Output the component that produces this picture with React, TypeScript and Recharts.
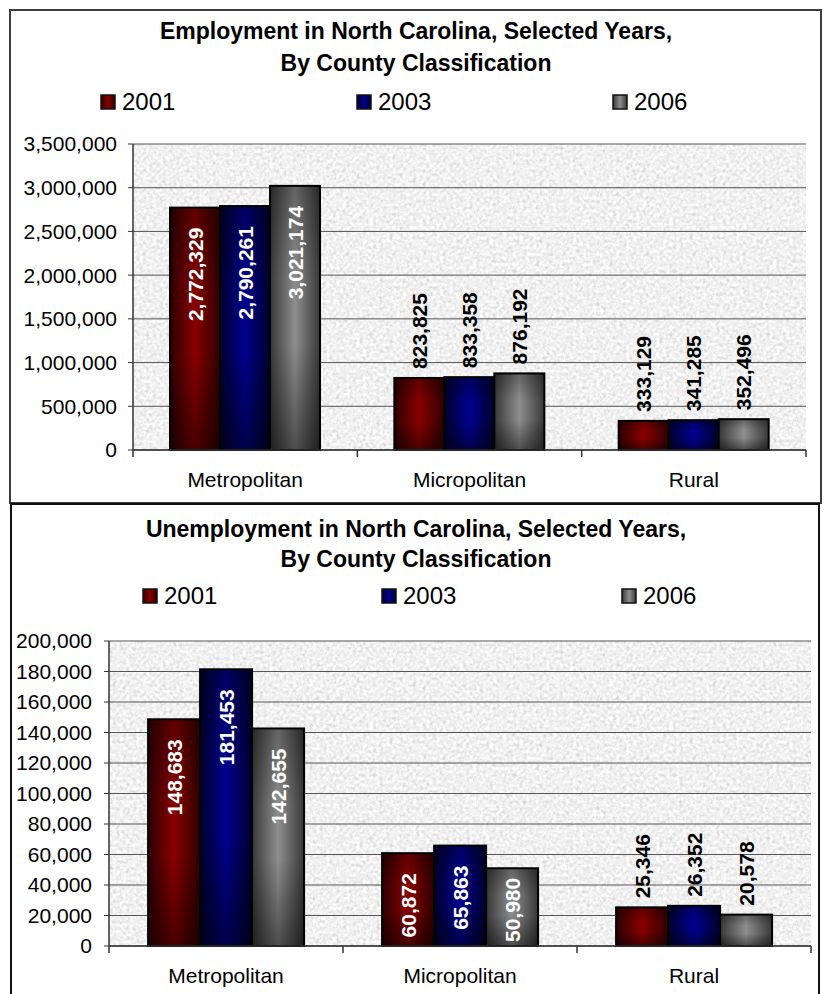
import React from 'react';
import { BarChart, Bar, XAxis, YAxis, CartesianGrid, LabelList } from 'recharts';

const categories = ['Metropolitan', 'Micropolitan', 'Rural'];
const years = ['2001', '2003', '2006'];

const employment2001 = [2772329, 823825, 333129];
const employment2003 = [2790261, 833358, 341285];
const employment2006 = [3021174, 876192, 352496];

const unemployment2001 = [148683, 60872, 25346];
const unemployment2003 = [181453, 65863, 26352];
const unemployment2006 = [142655, 50980, 20578];

const employmentTicks = [0, 500000, 1000000, 1500000, 2000000, 2500000, 3000000, 3500000];
const unemploymentTicks = [0, 20000, 40000, 60000, 80000, 100000, 120000, 140000, 160000, 180000, 200000];

const employmentTitle = ['Employment in North Carolina, Selected Years,', 'By County Classification'];
const unemploymentTitle = ['Unemployment in North Carolina, Selected Years,', 'By County Classification'];

const FONT = '"Liberation Sans", Arial, Helvetica, sans-serif';

const fmt = (v: number) => Number(v).toLocaleString('en-US');

const buildData = (a: number[], b: number[], c: number[]) =>
  categories.map((cat, i) => ({ category: cat, y2001: a[i], y2003: b[i], y2006: c[i] }));

const employmentData = buildData(employment2001, employment2003, employment2006);
const unemploymentData = buildData(unemployment2001, unemployment2003, unemployment2006);

const seriesKeys = ['y2001', 'y2003', 'y2006'];
const seriesGrad = ['red', 'blue', 'gray'];

function Defs({ p }: { p: string }) {
  return (
    <defs>
      <linearGradient id={`${p}red`} x1="0" y1="0" x2="1" y2="0">
        <stop offset="0%" stopColor="#2e0000" />
        <stop offset="50%" stopColor="#8a0000" />
        <stop offset="100%" stopColor="#2e0000" />
      </linearGradient>
      <linearGradient id={`${p}blue`} x1="0" y1="0" x2="1" y2="0">
        <stop offset="0%" stopColor="#00002c" />
        <stop offset="50%" stopColor="#000090" />
        <stop offset="100%" stopColor="#00002c" />
      </linearGradient>
      <linearGradient id={`${p}gray`} x1="0" y1="0" x2="1" y2="0">
        <stop offset="0%" stopColor="#383838" />
        <stop offset="50%" stopColor="#8e8e8e" />
        <stop offset="100%" stopColor="#383838" />
      </linearGradient>
      <linearGradient id={`${p}vshade`} x1="0" y1="0" x2="0" y2="1">
        <stop offset="0%" stopColor="#000" stopOpacity="0.3" />
        <stop offset="35%" stopColor="#000" stopOpacity="0" />
        <stop offset="60%" stopColor="#000" stopOpacity="0" />
        <stop offset="100%" stopColor="#000" stopOpacity="0.45" />
      </linearGradient>
      <filter id={`${p}grain`} x="0" y="0" width="100%" height="100%">
        <feTurbulence type="fractalNoise" baseFrequency="0.3" numOctaves="4" seed="7" />
        <feColorMatrix
          type="matrix"
          values="0.33 0.33 0.33 0 0  0.33 0.33 0.33 0 0  0.33 0.33 0.33 0 0  0 0 0 0 1"
        />
        <feComponentTransfer>
          <feFuncR type="linear" slope="0.9" intercept="0.43" />
          <feFuncG type="linear" slope="0.9" intercept="0.43" />
          <feFuncB type="linear" slope="0.9" intercept="0.43" />
        </feComponentTransfer>
      </filter>
      <pattern id={`${p}granite`} patternUnits="userSpaceOnUse" width="300" height="300">
        <rect x="0" y="0" width="300" height="300" fill="#e0e0e0" filter={`url(#${p}grain)`} />
      </pattern>
    </defs>
  );
}

function makeBarShape(p: string, grad: string) {
  return (props: any) => {
    const { x, y, width, height } = props;
    if (!height || height <= 0) return <g />;
    return (
      <g>
        <rect x={x} y={y} width={width} height={height} fill={`url(#${p}${grad})`} />
        <rect x={x} y={y} width={width} height={height} fill={`url(#${p}vshade)`} />
        <rect x={x} y={y} width={width} height={height} fill="none" stroke="#000" strokeWidth={2} />
      </g>
    );
  };
}

const textLen = (s: string) => {
  let w = 0;
  for (const ch of s) w += ch === ',' ? 0.278 : 0.556;
  return w * 21;
};

const renderValueLabel = (props: any) => {
  const { x, y, width, height, value } = props;
  if (value == null) return null;
  const s = fmt(value);
  const len = textLen(s);
  const cx = Number(x) + Number(width) / 2;
  const inside = Number(height) >= len + 8;
  let py: number;
  let anchor: 'start' | 'end';
  let color: string;
  if (inside) {
    const gap = Math.min(20, Number(height) - len - 4);
    py = Number(y) + gap;
    anchor = 'end';
    color = '#ffffff';
  } else {
    py = Number(y) - 9;
    anchor = 'start';
    color = '#000000';
  }
  return (
    <text
      x={cx}
      y={py}
      transform={`rotate(-90, ${cx}, ${py})`}
      textAnchor={anchor}
      dominantBaseline="central"
      fontFamily={FONT}
      fontWeight="bold"
      fontSize={21}
      fill={color}
    >
      {s}
    </text>
  );
};

const AXIS_GAP = 22;

const CategoryTick = (props: any) => {
  const { x, y, payload, index, visibleTicksCount } = props;
  const axisY = Number(y) - AXIS_GAP;
  const off = payload && typeof payload.offset === 'number' ? payload.offset : null;
  return (
    <g>
      {off != null && (
        <line x1={x - off} x2={x - off} y1={axisY} y2={axisY + 7} stroke="#333" strokeWidth={1.5} />
      )}
      {off != null && index === (visibleTicksCount ?? 3) - 1 && (
        <line x1={x + off} x2={x + off} y1={axisY} y2={axisY + 7} stroke="#333" strokeWidth={1.5} />
      )}
      <text x={x} y={y} dy="0.71em" textAnchor="middle" fontFamily={FONT} fontSize={21} fill="#000">
        {payload.value}
      </text>
    </g>
  );
};

interface ChartProps {
  p: string;
  data: any[];
  ticks: number[];
  max: number;
  height: number;
  margin: { top: number; right: number; bottom: number; left: number };
  yWidth: number;
  catGap: string;
  yTickMargin: number;
}

function NCChart({ p, data, ticks, max, height, margin, yWidth, catGap, yTickMargin }: ChartProps) {
  return (
    <BarChart
      width={827}
      height={height}
      data={data}
      margin={margin}
      barGap={0}
      barCategoryGap={catGap}
    >
      <Defs p={p} />
      <CartesianGrid
        vertical={false}
        stroke="#555"
        strokeWidth={1}
        fill={`url(#${p}granite)`}
        fillOpacity={1}
      />
      <XAxis
        dataKey="category"
        height={40}
        tickLine={false}
        tickSize={0}
        tickMargin={AXIS_GAP}
        axisLine={{ stroke: '#333', strokeWidth: 1.5 }}
        tick={<CategoryTick />}
        interval={0}
      />
      <YAxis
        width={yWidth}
        domain={[0, max]}
        ticks={ticks}
        interval={0}
        tickFormatter={fmt}
        tickSize={5}
        tickMargin={yTickMargin}
        tickLine={{ stroke: '#333' }}
        axisLine={{ stroke: '#333', strokeWidth: 1.5 }}
        tick={{ fontFamily: FONT, fontSize: 21, fill: '#000' }}
      />
      <YAxis
        yAxisId="right"
        orientation="right"
        width={0}
        domain={[0, 1]}
        tick={false}
        tickLine={false}
        axisLine={{ stroke: '#888', strokeWidth: 1 }}
      />
      {seriesKeys.map((k, i) => (
        <Bar
          key={k}
          dataKey={k}
          name={years[i]}
          fill={`url(#${p}${seriesGrad[i]})`}
          shape={makeBarShape(p, seriesGrad[i])}
          isAnimationActive={false}
        >
          <LabelList dataKey={k} content={renderValueLabel} />
        </Bar>
      ))}
    </BarChart>
  );
}

function TitleAndLegend({
  lines,
  baselines,
  legendX,
  legendTop,
  legendBaseline,
  p,
}: {
  lines: string[];
  baselines: number[];
  legendX: number[];
  legendTop: number;
  legendBaseline: number;
  p: string;
}) {
  return (
    <g>
      {lines.map((l, i) => (
        <text
          key={i}
          x={416}
          y={baselines[i]}
          textAnchor="middle"
          fontFamily={FONT}
          fontWeight="bold"
          fontSize={23}
          fill="#000"
        >
          {l}
        </text>
      ))}
      {years.map((yr, i) => (
        <g key={yr}>
          <rect
            x={legendX[i]}
            y={legendTop}
            width={14}
            height={14}
            fill={`url(#${p}${seriesGrad[i]})`}
            stroke="#111"
            strokeWidth={1.5}
          />
          <text x={legendX[i] + 21} y={legendBaseline} fontFamily={FONT} fontSize={24} fill="#000">
            {yr}
          </text>
        </g>
      ))}
    </g>
  );
}

export default function App() {
  return (
    <div
      style={{
        position: 'absolute',
        left: 0,
        top: 0,
        width: 827,
        height: 994,
        background: '#fff',
        overflow: 'hidden',
      }}
    >
      <div
        style={{
          position: 'absolute',
          left: 9,
          top: 9,
          width: 813,
          height: 495,
          boxSizing: 'border-box',
          border: '2px solid #3c3c3c',
        }}
      />
      <div
        style={{
          position: 'absolute',
          left: 10,
          top: 503,
          width: 810,
          height: 520,
          boxSizing: 'border-box',
          border: '2px solid #111',
        }}
      />
      <div style={{ position: 'absolute', left: 0, top: 0 }}>
        <NCChart
          p="e"
          data={employmentData}
          ticks={employmentTicks}
          max={3500000}
          height={503}
          margin={{ top: 144, right: 21, bottom: 13, left: 0 }}
          yWidth={133}
          catGap="16.5%"
          yTickMargin={11}
        />
      </div>
      <div style={{ position: 'absolute', left: 0, top: 504 }}>
        <NCChart
          p="u"
          data={unemploymentData}
          ticks={unemploymentTicks}
          max={200000}
          height={490}
          margin={{ top: 137, right: 16, bottom: 8, left: 0 }}
          yWidth={109}
          catGap="16.7%"
          yTickMargin={12}
        />
      </div>
      <svg
        width={827}
        height={994}
        style={{ position: 'absolute', left: 0, top: 0, pointerEvents: 'none' }}
      >
        <Defs p="l" />
        <TitleAndLegend
          p="l"
          lines={employmentTitle}
          baselines={[39, 71]}
          legendX={[101, 357, 613]}
          legendTop={95}
          legendBaseline={110}
        />
        <TitleAndLegend
          p="l"
          lines={unemploymentTitle}
          baselines={[537, 567]}
          legendX={[143, 382, 622]}
          legendTop={589}
          legendBaseline={604}
        />
      </svg>
    </div>
  );
}
